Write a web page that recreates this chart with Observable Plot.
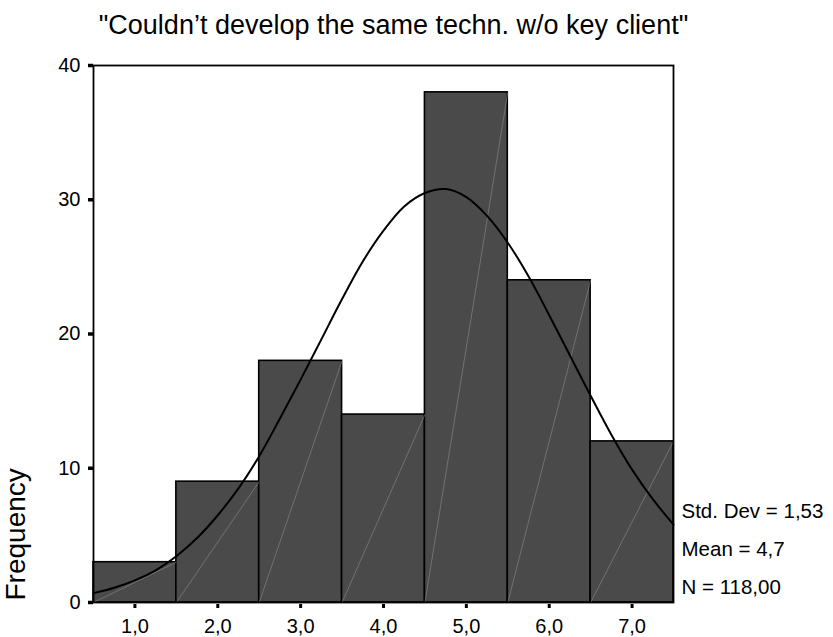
<!DOCTYPE html>
<html>
<head>
<meta charset="utf-8">
<script src="https://cdn.jsdelivr.net/npm/d3@7"></script>
<script src="https://cdn.jsdelivr.net/npm/@observablehq/plot@0.6"></script>
<style>
  html, body { margin: 0; padding: 0; background: #fff; }
  #chart svg { display: block; }
</style>
</head>
<body>
<div id="chart"></div>
<script>
const title = "\"Couldn’t develop the same techn. w/o key client\"";
const categories = [1, 2, 3, 4, 5, 6, 7];
const counts = [3, 9, 18, 14, 38, 24, 12];
const xTickLabels = ["1,0", "2,0", "3,0", "4,0", "5,0", "6,0", "7,0"];
const yTicks = [0, 10, 20, 30, 40];
const curveX = [0.5, 0.75, 1, 1.25, 1.5, 1.75, 2, 2.25, 2.5, 2.75, 3, 3.25, 3.5, 3.75, 4, 4.25, 4.5, 4.75, 5, 5.25, 5.5, 5.75, 6, 6.25, 6.5, 6.75, 7, 7.25, 7.5];
const curveY = [0.7, 1.1, 1.65, 2.4, 3.45, 4.8, 6.5, 8.5, 10.9, 13.7, 16.6, 19.6, 22.6, 25.4, 27.7, 29.5, 30.5, 30.8, 30.2, 28.8, 26.8, 24.3, 21.4, 18.4, 15.4, 12.5, 9.9, 7.7, 5.8];
const stats = ["Std. Dev = 1,53", "Mean = 4,7", "N = 118,00"];
const yLabel = "Frequency";

const bars = categories.map((c, i) => ({x: c, count: counts[i]}));
const curve = curveX.map((x, i) => ({x, y: curveY[i]}));

const font = "Arial, 'Liberation Sans', sans-serif";

const chart = Plot.plot({
  width: 833,
  height: 637,
  marginLeft: 93,
  marginRight: 160,
  marginTop: 65,
  marginBottom: 35,
  style: {fontFamily: font, fontSize: "20px", color: "black", background: "white"},
  x: {domain: [0.5, 7.5]},
  y: {domain: [0, 40]},
  marks: [
    Plot.rect(bars, {x1: d => d.x - 0.5, x2: d => d.x + 0.5, y1: 0, y2: "count", fill: "#4a4a4a", stroke: "black", strokeWidth: 1.6}),
    Plot.link(bars, {x1: d => d.x - 0.5, y1: 0, x2: d => d.x + 0.5, y2: "count", stroke: "#8c8c8c", strokeWidth: 0.6}),
    Plot.line(curve, {x: "x", y: "y", stroke: "black", strokeWidth: 2, curve: "catmull-rom"}),
    Plot.frame({stroke: "black", strokeWidth: 1.8}),
    Plot.axisY({ticks: yTicks, tickSize: 5, strokeWidth: 3.5, tickPadding: 8, fontSize: 20, tickFormat: d => String(d), label: null}),
    Plot.axisX({ticks: categories, tickSize: 4, dy: 2, strokeWidth: 3, tickPadding: 10, fontSize: 20, tickFormat: (d, i) => xTickLabels[i], label: null}),
    Plot.text([title], {frameAnchor: "top", dx: 10, dy: -32, lineAnchor: "bottom", fontSize: 27, fill: "black"}),
    Plot.text([yLabel], {frameAnchor: "bottom-left", dx: -69, dy: -2, rotate: -90, textAnchor: "start", fontSize: 28, fill: "black"}),
    Plot.text([stats.join("\n")], {frameAnchor: "bottom-right", dx: 8, dy: -9, textAnchor: "start", lineAnchor: "bottom", lineHeight: 1.83, fontSize: 20.5, fill: "black"})
  ]
});
document.getElementById("chart").appendChild(chart);
</script>
</body>
</html>
